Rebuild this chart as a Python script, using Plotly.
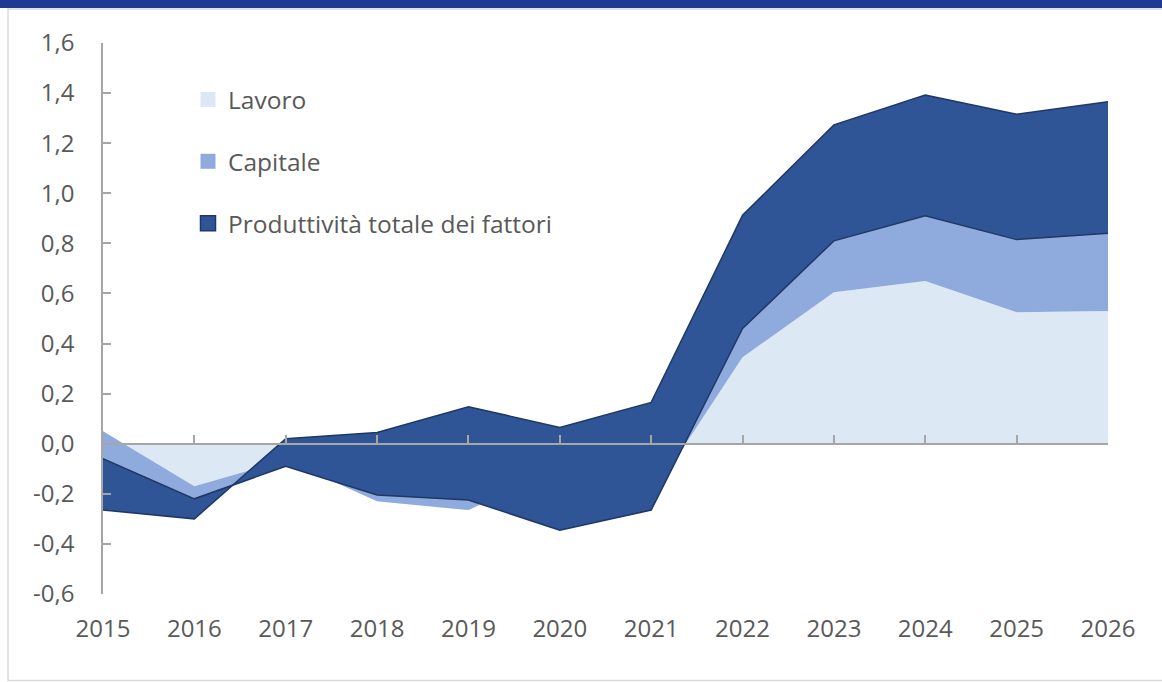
import numpy as np
import plotly.graph_objects as go

# anni e contributi (punti percentuali)
anni = [2015, 2016, 2017, 2018, 2019, 2020, 2021, 2022, 2023, 2024, 2025, 2026]
lavoro = [0.05, -0.17, -0.065, -0.23, -0.265, -0.09, -0.21, 0.345, 0.605, 0.65, 0.525, 0.53]
capitale = [-0.11, -0.05, -0.025, 0.025, 0.04, -0.255, -0.055, 0.115, 0.205, 0.26, 0.29, 0.31]
ptf = [-0.205, -0.08, 0.11, 0.25, 0.373, 0.41, 0.43, 0.452, 0.463, 0.482, 0.501, 0.525]

y_ticks = [-0.6, -0.4, -0.2, 0.0, 0.2, 0.4, 0.6, 0.8, 1.0, 1.2, 1.4, 1.6]
y_labels = ["-0,6", "-0,4", "-0,2", "0,0", "0,2", "0,4", "0,6", "0,8", "1,0", "1,2", "1,4", "1,6"]

nomi = ["Lavoro", "Capitale", "Produttività totale dei fattori"]
colori = ["#DDE8F5", "#8FAADC", "#2F5597"]
bordo = "#1F3864"
grigio = "#A6A6A6"
testo = "#595959"

W, H = 1162, 682
ML, MR, MT, MB = 103, 54, 43, 88
pw, ph = W - ML - MR, H - MT - MB


def px_x(p):
    return (p - ML) / pw


def px_y(p):
    return (H - MB - p) / ph


fig = go.Figure()

# aree impilate
for nome, vals, col in zip(nomi, [lavoro, capitale, ptf], colori):
    line = dict(width=0) if col != colori[2] else dict(width=1.5, color=bordo)
    fig.add_trace(go.Scatter(x=anni, y=vals, name=nome, mode="lines",
                             stackgroup="one", fillcolor=col, line=line,
                             showlegend=False, hoverinfo="skip"))

# bordo inferiore dell'area PTF
base_ptf = np.array(lavoro) + np.array(capitale)
fig.add_trace(go.Scatter(x=anni, y=base_ptf, mode="lines", xaxis="x2",
                         line=dict(width=1.5, color=bordo),
                         showlegend=False, hoverinfo="skip"))

# voci di legenda
for i, (nome, col) in enumerate(zip(nomi, colori)):
    fig.add_trace(go.Scatter(x=[None], y=[None], mode="markers", name=nome,
                             legendgroup=nome,
                             marker=dict(symbol="square", size=15, color=col,
                                         line=dict(width=1.5 if i == 2 else 0, color=bordo))))

fig.update_layout(
    width=W, height=H,
    margin=dict(l=ML, r=MR, t=MT, b=MB),
    paper_bgcolor="white", plot_bgcolor="white",
    font=dict(family="Open Sans", size=24, color=testo),
    xaxis=dict(range=[anni[0], anni[-1]], tickvals=anni, ticktext=[str(a) for a in anni],
               showline=False, showgrid=False, zeroline=False, ticks="",
               ticklabelstandoff=18),
    xaxis2=dict(range=[anni[0], anni[-1]], overlaying="x", anchor="free",
                position=0.6 / 2.2, tickvals=anni, showticklabels=False,
                showline=True, linecolor=grigio, linewidth=1.5,
                ticks="inside", ticklen=8, tickcolor=grigio, tickwidth=1.5,
                showgrid=False, zeroline=False),
    yaxis=dict(range=[-0.6, 1.6], tickvals=y_ticks, ticktext=y_labels,
               showline=True, linecolor=grigio, linewidth=1.5,
               ticks="inside", ticklen=8, tickcolor=grigio, tickwidth=1.5,
               showgrid=False, zeroline=False, ticklabelstandoff=22),
    legend=dict(x=px_x(188), y=px_y(77), xanchor="left", yanchor="top",
                bgcolor="rgba(0,0,0,0)", tracegroupgap=27,
                font=dict(size=24.5, color=testo)),
    showlegend=True,
    shapes=[
        dict(type="rect", xref="paper", yref="paper",
             x0=px_x(0), x1=px_x(W), y0=px_y(8), y1=px_y(0),
             fillcolor="#1F3A93", line=dict(width=0)),
        dict(type="path", xref="paper", yref="paper",
             path="M {} {} L {} {} L {} {} L {} {}".format(
                 px_x(W + 5), px_y(9), px_x(8), px_y(9), px_x(8), px_y(680.5),
                 px_x(W + 5), px_y(680.5)),
             line=dict(color="#D9D9D9", width=1.5)),
    ],
)

fig.write_html("out.html", config={"displayModeBar": False},
               post_script="document.body.style.margin='0';")
